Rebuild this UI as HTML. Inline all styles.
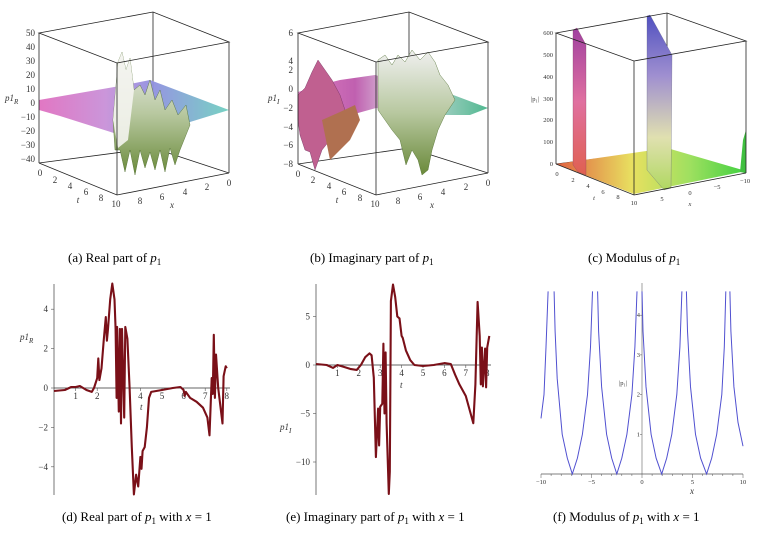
<!DOCTYPE html>
<html><head><meta charset="utf-8">
<style>
html,body{margin:0;padding:0;background:#fff;}
body{width:759px;height:534px;position:relative;overflow:hidden;font-family:"Liberation Serif",serif;}
svg{position:absolute;left:0;top:0;}
.cap{font-family:"Liberation Serif",serif;font-size:13px;fill:#000;}
.tk{font-family:"Liberation Serif",serif;font-size:9px;fill:#333;}
.tks{font-family:"Liberation Serif",serif;font-size:6.5px;fill:#333;}
</style></head>
<body>
<svg id="fig" width="759" height="534" viewBox="0 0 759 534">
<defs>
<linearGradient id="ga" x1="0" y1="0" x2="1" y2="0"><stop offset="0" stop-color="#e070c0"/><stop offset="0.35" stop-color="#c890d8"/><stop offset="0.6" stop-color="#9090e0"/><stop offset="1" stop-color="#70d0c0"/></linearGradient>
<linearGradient id="gb" x1="0" y1="0" x2="1" y2="0"><stop offset="0" stop-color="#e080c0"/><stop offset="0.3" stop-color="#c060b0"/><stop offset="0.55" stop-color="#e0e0e8"/><stop offset="1" stop-color="#50b890"/></linearGradient>
<linearGradient id="gc" x1="0" y1="0" x2="1" y2="0"><stop offset="0" stop-color="#e06040"/><stop offset="0.4" stop-color="#e8e060"/><stop offset="0.7" stop-color="#a0e060"/><stop offset="1" stop-color="#40d040"/></linearGradient>
<linearGradient id="gw" x1="0" y1="0" x2="0" y2="1"><stop offset="0" stop-color="#5050c0"/><stop offset="0.35" stop-color="#a090d0"/><stop offset="0.7" stop-color="#e0e0b0"/><stop offset="1" stop-color="#b0d860"/></linearGradient>
<linearGradient id="gp" x1="0" y1="0" x2="0" y2="1"><stop offset="0" stop-color="#a040a0"/><stop offset="0.5" stop-color="#e070a0"/><stop offset="1" stop-color="#e06050"/></linearGradient>
<linearGradient id="gs" x1="0" y1="0" x2="0" y2="1"><stop offset="0" stop-color="#f0f0f0"/><stop offset="0.5" stop-color="#b8c8a0"/><stop offset="1" stop-color="#6a8a3a"/></linearGradient>
</defs>

<!-- Panel A -->
<g>
<line x1="39" y1="163" x2="153" y2="148" stroke="#222" stroke-width="0.8"/>
<line x1="153" y1="148" x2="229" y2="173" stroke="#222" stroke-width="0.8"/>
<line x1="153" y1="12" x2="153" y2="148" stroke="#222" stroke-width="0.8"/>
<polygon points="39,100 120,86 150,80 229,110 190,122 117,134 60,116 39,110" fill="url(#ga)" opacity="0.95"/>
<polygon points="113,120 118,62 122,52 126,70 130,58 134,90 140,85 145,95 150,80 155,100 160,90 165,110 172,100 178,115 186,105 190,125 180,150 175,165 170,148 165,172 160,150 155,170 150,152 145,168 140,150 135,175 130,150 125,172 120,150 115,150" fill="url(#gs)" stroke="#4a6a2a" stroke-width="0.4"/>
<polygon points="113,120 118,62 122,52 126,70 130,58 134,90 128,140 118,148" fill="#f4f4f0" opacity="0.9"/>
<polygon points="39,33 153,12 229,42 117,63" fill="none" stroke="#222" stroke-width="0.8"/>
<line x1="39" y1="33" x2="39" y2="163" stroke="#222" stroke-width="0.8"/>
<line x1="117" y1="63" x2="117" y2="195" stroke="#222" stroke-width="0.8"/>
<line x1="229" y1="42" x2="229" y2="173" stroke="#222" stroke-width="0.8"/>
<polyline points="39,163 117,195 229,173" fill="none" stroke="#222" stroke-width="0.8"/>
<g class="tk" text-anchor="end">
<text x="35" y="36">50</text><text x="35" y="50">40</text><text x="35" y="64">30</text><text x="35" y="78">20</text><text x="35" y="92">10</text><text x="35" y="106">0</text><text x="35" y="120">−10</text><text x="35" y="134">−20</text><text x="35" y="148">−30</text><text x="35" y="162">−40</text>
</g>
<text x="5" y="101" class="tk" font-style="italic" font-size="10">p1<tspan font-size="7" dy="3">R</tspan></text>
<g class="tk" text-anchor="middle"><text x="40" y="176">0</text><text x="55" y="183">2</text><text x="70" y="189">4</text><text x="86" y="195">6</text><text x="101" y="201">8</text><text x="116" y="207">10</text>
<text x="140" y="204">8</text><text x="162" y="200">6</text><text x="185" y="195">4</text><text x="207" y="190">2</text><text x="229" y="186">0</text>
<text x="78" y="203" font-style="italic">t</text><text x="172" y="208" font-style="italic">x</text></g>
</g>

<!-- Panel B -->
<g>
<line x1="298" y1="164" x2="409" y2="148" stroke="#222" stroke-width="0.8"/>
<line x1="409" y1="148" x2="488" y2="173" stroke="#222" stroke-width="0.8"/>
<line x1="409" y1="12" x2="409" y2="148" stroke="#222" stroke-width="0.8"/>
<polygon points="298,92 320,85 340,80 375,75 410,85 440,90 488,108 470,115 420,115 376,108 340,118 310,110 298,108" fill="url(#gb)"/>
<polygon points="298,95 305,88 312,72 318,60 325,70 332,80 340,95 345,110 338,120 330,140 322,150 315,170 310,152 305,150 300,135 298,120" fill="#c06090" stroke="#703060" stroke-width="0.4"/>
<polygon points="322,120 340,112 355,105 360,120 350,140 340,150 330,160" fill="#b07050"/>
<polygon points="378,60 385,55 392,65 398,55 405,62 412,50 420,60 428,52 435,62 440,75 448,85 455,100 445,115 438,130 432,150 428,170 422,175 418,160 412,150 406,165 400,140 392,130 385,120 378,110" fill="url(#gs)" stroke="#4a6a2a" stroke-width="0.4"/>
<polygon points="298,33 409,12 488,42 376,62" fill="none" stroke="#222" stroke-width="0.8"/>
<line x1="298" y1="33" x2="298" y2="164" stroke="#222" stroke-width="0.8"/>
<line x1="376" y1="62" x2="376" y2="195" stroke="#222" stroke-width="0.8"/>
<line x1="488" y1="42" x2="488" y2="173" stroke="#222" stroke-width="0.8"/>
<polyline points="298,164 376,195 488,173" fill="none" stroke="#222" stroke-width="0.8"/>
<g class="tk" text-anchor="end">
<text x="293" y="36">6</text><text x="293" y="64">4</text><text x="293" y="73">2</text><text x="293" y="92">0</text><text x="293" y="111">−2</text><text x="293" y="130">−4</text><text x="293" y="148">−6</text><text x="293" y="167">−8</text>
</g>
<text x="268" y="101" class="tk" font-style="italic" font-size="10">p1<tspan font-size="7" dy="3">I</tspan></text>
<g class="tk" text-anchor="middle"><text x="298" y="177">0</text><text x="313" y="183">2</text><text x="329" y="189">4</text><text x="344" y="195">6</text><text x="360" y="201">8</text><text x="375" y="207">10</text>
<text x="398" y="204">8</text><text x="420" y="200">6</text><text x="443" y="195">4</text><text x="466" y="190">2</text><text x="488" y="186">0</text>
<text x="337" y="203" font-style="italic">t</text><text x="432" y="208" font-style="italic">x</text></g>
</g>

<!-- Panel C -->
<g>
<line x1="556" y1="164" x2="667" y2="150" stroke="#222" stroke-width="0.8"/>
<line x1="667" y1="150" x2="746" y2="173" stroke="#222" stroke-width="0.8"/>
<line x1="667" y1="13" x2="667" y2="150" stroke="#222" stroke-width="0.8"/>
<polygon points="556,164 667,148 746,171 634,194" fill="url(#gc)"/>
<polygon points="573,30 577,28 586,45 586,175 578,172 573,165" fill="url(#gp)" stroke="#804060" stroke-width="0.3"/>
<polygon points="647,16 650,15 672,55 671,188 664,190 647,170" fill="url(#gw)" stroke="#606080" stroke-width="0.3"/>
<polygon points="743,140 746,130 746,173 740,172" fill="#40c040"/>
<polygon points="556,33 667,13 746,41 634,61" fill="none" stroke="#222" stroke-width="0.8"/>
<line x1="556" y1="33" x2="556" y2="164" stroke="#222" stroke-width="0.8"/>
<line x1="634" y1="61" x2="634" y2="195" stroke="#222" stroke-width="0.8"/>
<line x1="746" y1="41" x2="746" y2="173" stroke="#222" stroke-width="0.8"/>
<polyline points="556,164 634,195 746,173" fill="none" stroke="#222" stroke-width="0.8"/>
<g class="tks" text-anchor="end">
<text x="553" y="35">600</text><text x="553" y="57">500</text><text x="553" y="79">400</text><text x="553" y="101">300</text><text x="553" y="122">200</text><text x="553" y="144">100</text><text x="553" y="166">0</text>
</g>
<text x="531" y="101" class="tks">|p₁|</text>
<g class="tks" text-anchor="middle"><text x="557" y="176">0</text><text x="573" y="182">2</text><text x="588" y="188">4</text><text x="603" y="194">6</text><text x="618" y="199">8</text><text x="634" y="205">10</text>
<text x="662" y="201">5</text><text x="690" y="195">0</text><text x="717" y="189">−5</text><text x="745" y="183">−10</text>
<text x="594" y="200" font-style="italic">t</text><text x="690" y="206" font-style="italic">x</text></g>
</g>

<g>
<text class="cap" x="68" y="262">(a)  Real part of <tspan font-style="italic">p</tspan><tspan font-size="9" dy="3">1</tspan></text>
<text class="cap" x="310" y="262">(b)  Imaginary part of <tspan font-style="italic">p</tspan><tspan font-size="9" dy="3">1</tspan></text>
<text class="cap" x="588" y="262">(c)  Modulus of <tspan font-style="italic">p</tspan><tspan font-size="9" dy="3">1</tspan></text>
</g>
<g>
<text class="cap" x="62" y="521">(d)  Real part of <tspan font-style="italic">p</tspan><tspan font-size="9" dy="3">1</tspan><tspan dy="-3"> with </tspan><tspan font-style="italic">x</tspan> = 1</text>
<text class="cap" x="286" y="521">(e)  Imaginary part of <tspan font-style="italic">p</tspan><tspan font-size="9" dy="3">1</tspan><tspan dy="-3"> with </tspan><tspan font-style="italic">x</tspan> = 1</text>
<text class="cap" x="553" y="521">(f)  Modulus of <tspan font-style="italic">p</tspan><tspan font-size="9" dy="3">1</tspan><tspan dy="-3"> with </tspan><tspan font-style="italic">x</tspan> = 1</text>
</g>

<g id="pd"></g>
<g id="pe"></g>
<g id="pf"></g>
</svg>
<script>
const dT=[0,0.5,0.8,1.0,1.2,1.5,1.75,1.85,2.0,2.05,2.1,2.2,2.3,2.4,2.45,2.5,2.6,2.7,2.8,2.85,2.9,2.92,3.0,3.05,3.1,3.15,3.25,3.3,3.4,3.5,3.6,3.7,3.8,3.9,4.0,4.05,4.1,4.2,4.3,4.4,4.5,5.0,5.5,5.85,6.0,6.05,6.1,6.3,6.6,6.9,7.1,7.2,7.3,7.35,7.4,7.45,7.5,7.6,7.8,7.85,7.95,8.0];
const dV=[-0.15,-0.1,0.05,0.05,0.1,-0.1,-0.2,0.0,0.5,1.5,0.4,1.0,2.4,3.6,2.4,3.0,4.5,5.3,4.5,3.0,-0.5,3.1,-1.2,3.0,-1.8,3.0,-1.5,3.1,2.5,0,-3,-5.4,-4.4,-5,-3.5,-4.1,-3.2,-3.0,-2,-0.5,-0.2,-0.1,0,0.05,-0.1,-0.4,-0.2,-0.5,-0.7,-1.0,-1.5,-2.4,0.5,-0.3,2.7,-0.5,1.7,0,-1.8,0.6,1.1,1.0];
const dYTicks=[-4,-2,0,2,4];
const dXTicks=[1,2,3,4,5,6,7,8];
const eT=[0,0.5,0.8,1.0,1.3,1.6,1.9,2.1,2.3,2.5,2.6,2.7,2.8,2.9,2.95,3.0,3.1,3.15,3.2,3.25,3.3,3.4,3.45,3.5,3.6,3.7,3.8,3.9,4.0,4.05,4.2,4.4,4.6,5.0,5.5,6.0,6.3,6.5,6.7,7.0,7.2,7.35,7.45,7.55,7.65,7.7,7.75,7.8,7.9,7.95,8.0,8.1];
const eV=[0.1,0,-0.3,0,-0.2,-0.4,-0.5,0,0.8,1.2,1.0,-1.3,-9.5,-4.5,-8.3,-4.3,-4.0,2.2,-5,1.3,-6,-13.3,-11,6.6,8.3,7,5,4.8,3,2.8,1.5,0.5,0,-0.1,0,0.2,0.1,-1,-2,-3.2,-4.8,-6,-2,6.5,3,-2,1.8,-2.2,1.7,-2.3,1.8,3.0];
const eYTicks=[-10,-5,0,5];
const eXTicks=[1,2,3,4,5,6,7,8];
const fX=[-10,-9.7,-9.5,-9.3,null,-8.7,-8.6,-8.4,-7.9,-7.4,-6.9,-6.4,-5.9,-5.4,-5.1,-4.9,null,-4.4,-4.3,-4.0,-3.5,-3.0,-2.5,-2.0,-1.5,-1.0,-0.7,-0.5,null,0.0,0.1,0.4,0.9,1.4,1.95,2.45,2.95,3.45,3.75,3.95,null,4.4,4.5,4.8,5.3,5.8,6.4,6.9,7.4,7.9,8.15,8.3,null,8.7,8.8,9.1,9.5,10];
const fY=[1.4,2.0,3.2,4.6,null,4.6,3.6,2.4,1.0,0.4,0,0.4,1.0,2.0,3.2,4.6,null,4.6,3.6,2.2,1.0,0.4,0,0.4,1.0,2.0,3.2,4.6,null,4.6,3.6,2.2,1.0,0.4,0,0.4,1.0,2.0,3.2,4.6,null,4.6,3.6,2.2,1.0,0.4,0,0.4,1.0,2.0,3.2,4.6,null,4.6,3.6,2.2,1.3,0.7];
const fYTicks=[1,2,3,4];
const fXTicks=[-10,-5,0,5,10];
const NS='http://www.w3.org/2000/svg';
function mk(p,tag,attrs){const e=document.createElementNS(NS,tag);for(const k in attrs)e.setAttribute(k,attrs[k]);p.appendChild(e);return e;}

function linePanel(g,T,V,sx,sy,yTicks,xTicks,x0,x1,y0,y1,lbl){
  const ya=mk(g,'line',{x1:sx(0),x2:sx(0),y1:y0,y2:y1,stroke:'#555','stroke-width':0.8});
  
  
  const xa=mk(g,'line',{x1:x0,x2:x1,y1:sy(0),y2:sy(0),stroke:'#333','stroke-width':0.8});
  
  
  yTicks.forEach(v=>{
    mk(g,'line',{x1:sx(0)-3,x2:sx(0),y1:sy(v),y2:sy(v),stroke:'#555','stroke-width':0.6});
    const t=mk(g,'text',{x:sx(0)-6,y:sy(v)+3,'text-anchor':'end',class:'tk'});
    t.textContent=(v<0?'−':'')+Math.abs(v);
    
    
  });
  xTicks.forEach(v=>{
    mk(g,'line',{x1:sx(v),x2:sx(v),y1:sy(0),y2:sy(0)+3,stroke:'#555','stroke-width':0.6});
    const t=mk(g,'text',{x:sx(v),y:sy(0)+11,'text-anchor':'middle',class:'tk'});
    t.textContent=v;
    
    
  });
  let d='';
  T.forEach((t,i)=>{d+=(i?'L':'M')+sx(t).toFixed(1)+','+sy(V[i]).toFixed(1);});
  const p=mk(g,'path',{d:d,fill:'none',stroke:'#7a1018','stroke-width':2.1,'stroke-linejoin':'round'});
  
  
}
(function(){
  const g=document.getElementById('pd');
  const sx=t=>54+t*21.6, sy=v=>388-v*19.7;
  linePanel(g,dT,dV,sx,sy,dYTicks,dXTicks,54,230,284,495,'real-part-curve');
  const l=mk(g,'text',{x:20,y:340,class:'tk','font-style':'italic','font-size':10});
  l.innerHTML='p1<tspan font-size="7" dy="3">R</tspan>';
  
  
  const tl=mk(g,'text',{x:140,y:410,class:'tk','font-style':'italic'});tl.textContent='t';
  
  
})();
(function(){
  const g=document.getElementById('pe');
  const sx=t=>316+t*21.4, sy=v=>365-v*9.7;
  linePanel(g,eT,eV,sx,sy,eYTicks,eXTicks,316,491,284,495,'imag-part-curve');
  const l=mk(g,'text',{x:280,y:430,class:'tk','font-style':'italic','font-size':10});
  l.innerHTML='p1<tspan font-size="7" dy="3">I</tspan>';
  
  
  const tl=mk(g,'text',{x:400,y:388,class:'tk','font-style':'italic'});tl.textContent='t';
  
  
})();
(function(){
  const g=document.getElementById('pf');
  const sx=x=>541+(x+10)*10.1, sy=v=>474-v*39.7;
  const ya=mk(g,'line',{x1:sx(0),x2:sx(0),y1:283,y2:474,stroke:'#888','stroke-width':0.8});
  
  
  const xa=mk(g,'line',{x1:541,x2:743,y1:474,y2:474,stroke:'#555','stroke-width':0.8});
  
  
  for(let i=-10;i<=10;i++){mk(g,'line',{x1:sx(i),x2:sx(i),y1:474,y2:i%5?476:478,stroke:'#555','stroke-width':0.5});}
  fYTicks.forEach(v=>{
    mk(g,'line',{x1:sx(0)-2,x2:sx(0),y1:sy(v),y2:sy(v),stroke:'#555','stroke-width':0.5});
    const t=mk(g,'text',{x:sx(0)-2,y:sy(v)+2,'text-anchor':'end',class:'tks'});t.textContent=v;
    
    
  });
  fXTicks.forEach(v=>{
    const t=mk(g,'text',{x:sx(v),y:484,'text-anchor':'middle',class:'tks'});t.textContent=(v<0?'−':'')+Math.abs(v);
    
    
  });
  let d='',pen=false;
  fX.forEach((x,i)=>{if(x===null){pen=false;return;}d+=(pen?'L':'M')+sx(x).toFixed(1)+','+sy(fY[i]).toFixed(1);pen=true;});
  const p=mk(g,'path',{d:d,fill:'none',stroke:'#5050d0','stroke-width':1});
  
  
  const l=mk(g,'text',{x:619,y:385,class:'tks'});l.textContent='|p₁|';
  
  
  const xl=mk(g,'text',{x:690,y:494,class:'tk','font-style':'italic'});xl.textContent='x';
  
  
})();
</script>
</body></html>
